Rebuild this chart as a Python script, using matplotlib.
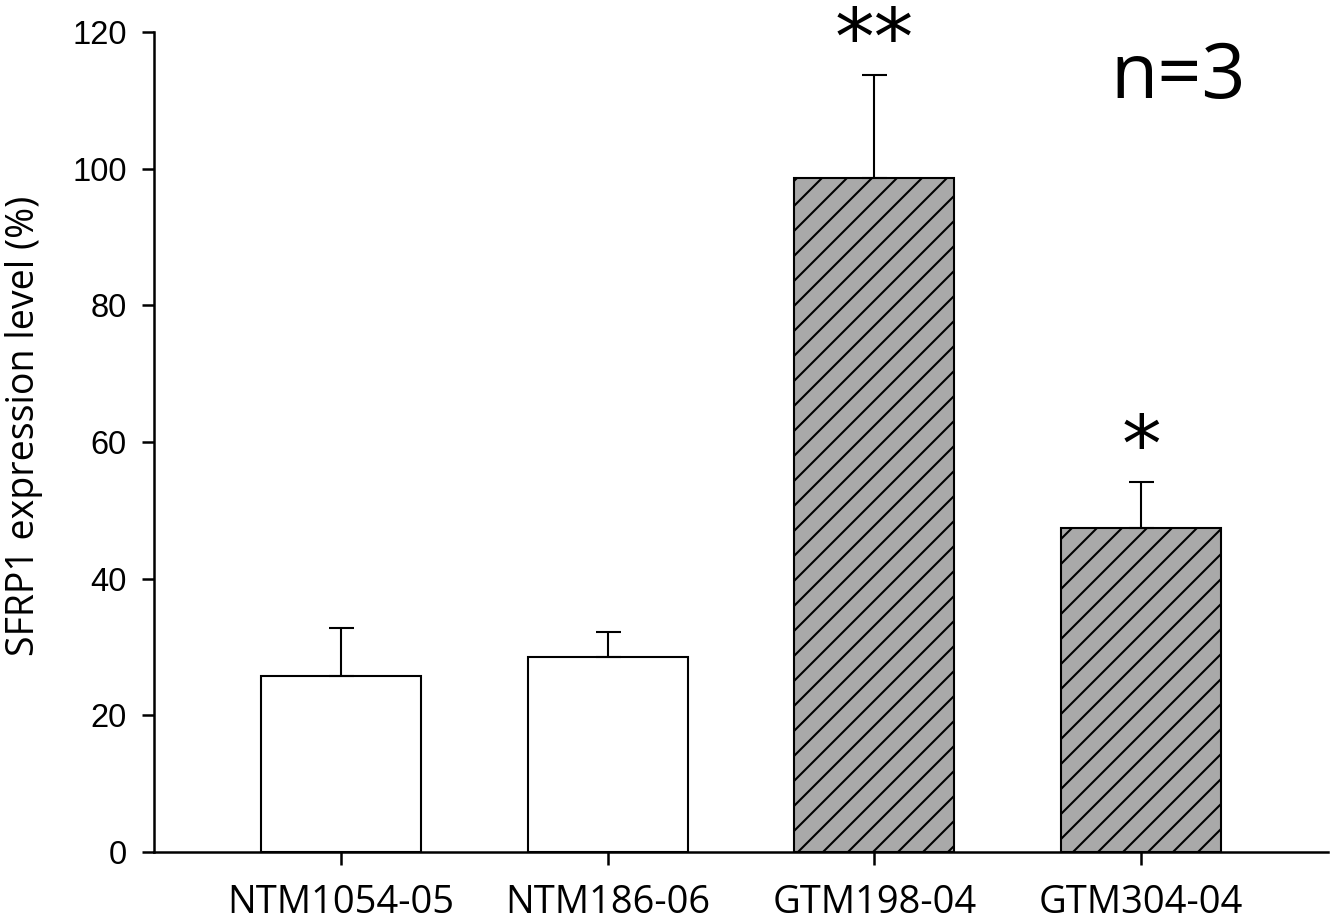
import numpy as np
import matplotlib.pyplot as plt

groups = ['NTM1054-05', 'NTM186-06', 'GTM198-04', 'GTM304-04']
means = [25.8, 28.5, 98.6, 47.4]
sems = [7.0, 3.7, 15.1, 6.7]
stars = ['', '', '**', '*']
hatched = [False, False, True, True]

plt.rcParams['hatch.linewidth'] = 1.0

fig = plt.figure(figsize=(8.88, 6.16), dpi=150)
ax = fig.add_axes([154 / 1332, 1 - 852 / 924, (1328 - 154) / 1332, (852 - 32) / 924])

x = np.arange(len(groups))
for i in range(len(groups)):
    ax.bar(x[i], means[i], width=0.6, color='#a9a9a9' if hatched[i] else 'white',
           edgecolor='black', linewidth=1.0, hatch='//' if hatched[i] else None, zorder=2)
ax.errorbar(x, means, yerr=[np.zeros(len(means)), sems], fmt='none', ecolor='black',
            elinewidth=1.0, capsize=6, capthick=1.0, zorder=3)

for i, s in enumerate(stars):
    if s:
        ax.text(x[i], means[i] + sems[i] + 1.6, s, ha='center', va='baseline',
                fontsize=38, family='DejaVu Sans')

ax.text(3.14, 110.4, 'n=3', ha='center', va='baseline', fontsize=37, family='Open Sans')

ax.set_xlim(-0.7, 3.7)
ax.set_ylim(0, 120)
ax.set_yticks(np.arange(0, 121, 20))
ax.set_xticks(x)
ax.set_xticklabels(groups, family='Open Sans', fontsize=18.3)
for lab in ax.get_yticklabels():
    lab.set_family('Liberation Sans')
    lab.set_fontsize(15.7)
ax.set_ylabel('SFRP1 expression level (%)', family='Open Sans', fontsize=18)
ax.yaxis.set_label_coords(-0.0945, 0.52)

for sp in ['top', 'right']:
    ax.spines[sp].set_visible(False)
for sp in ['left', 'bottom']:
    ax.spines[sp].set_linewidth(1.2)
ax.tick_params(axis='both', direction='out', length=6, width=1.2)
ax.tick_params(axis='y', pad=7)
ax.tick_params(axis='x', pad=9.5)

fig.savefig('out.png', dpi=150)
